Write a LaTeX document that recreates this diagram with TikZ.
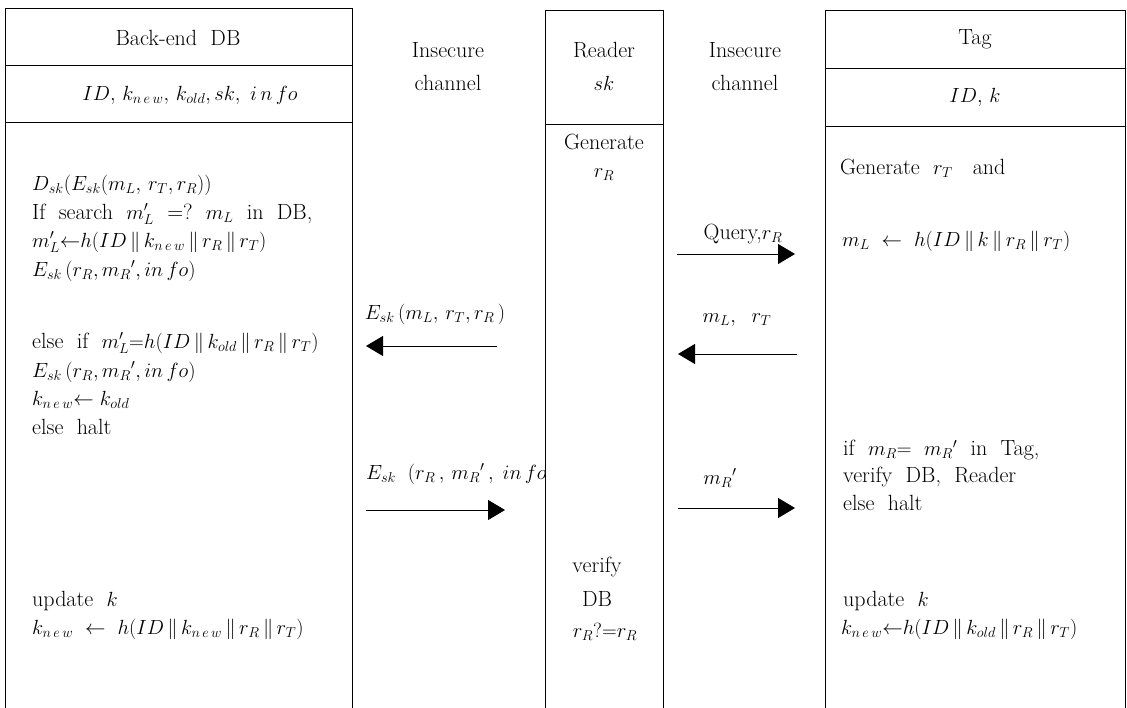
\RequirePackage{fix-cm}
\documentclass[tikz,border=0pt]{standalone}
\usetikzlibrary{arrows.meta}
\newcommand\mth[1]{{\fontsize{20.5}{24}\selectfont$#1$}}
\begin{document}
\begin{tikzpicture}[x=1pt,y=-1pt,
  txt/.style={font=\rmfamily\fontsize{22}{28}\selectfont, inner sep=0pt, anchor=west},
  ctr/.style={font=\rmfamily\fontsize{22}{28}\selectfont, inner sep=0pt},
  msg/.style={line width=0.8pt, -{Triangle[length=17pt,width=20pt]}},
  frame/.style={line width=0.8pt}]
\useasboundingbox (0,0) rectangle (1127,708);
% Back-end DB column
\draw[frame] (5,708) -- (5,8) -- (352,8) -- (352,708);
\draw[frame] (5,65) -- (352,65);
\draw[frame] (5,122) -- (352,122);
% Reader column
\draw[frame] (545,708) -- (545,10) -- (663,10) -- (663,708);
\draw[frame] (545,124) -- (663,124);
% Tag column
\draw[frame] (825,708) -- (825,10) -- (1125,10) -- (1125,708);
\draw[frame] (825,68) -- (1125,68);
\draw[frame] (825,126) -- (1125,126);

% headers
\node[ctr] (dbh) at (178,38) {Back-end\ \ DB};
\node[ctr] (dbv) at (190,95) {\mth{ID,\,k_{n\,e\,w},\,k_{old},sk,\ i\,n\,fo}};
\node[ctr] (ic1a) at (448,50) {Insecure};
\node[ctr] (ic1b) at (448,83) {channel};
\node[ctr] (rdh) at (604,50) {Reader};
\node[ctr] (rdv) at (604,83) {\mth{sk}};
\node[ctr] (ic2a) at (745,50) {Insecure};
\node[ctr] (ic2b) at (745,83) {channel};
\node[ctr] (tgh) at (975,39) {Tag};
\node[ctr] (tgv) at (975,97) {\mth{ID,\,k}};

% DB body
\node[txt] (d1) at (32,185) {\mth{D_{sk}(E_{sk}(m_L,\,r_T,r_R))}};
\node[txt] (d2) at (32,214) {If\ \ search\ \ \mth{m'_L}\ \ =?\ \ \mth{m_L}\ \ in\ \ DB,};
\node[txt] (d3) at (32,242) {\mth{m'_L{\leftarrow}h(ID\,\|\,k_{n\,e\,w}\,\|\,r_R\,\|\,r_T)}};
\node[txt] (d4) at (32,271) {\mth{E_{sk}\,(r_R,m_R{}',in\,fo)}};
\node[txt] (d5) at (32,343) {else\ \ if\ \ \mth{m'_L{=}h(ID\,\|\,k_{old}\,\|\,r_R\,\|\,r_T)}};
\node[txt] (d6) at (32,372) {\mth{E_{sk}\,(r_R,m_R{}',in\,fo)}};
\node[txt] (d7) at (32,400) {\mth{k_{n\,e\,w}{\leftarrow}\ k_{old}}};
\node[txt] (d8) at (32,427) {else\ \ halt};
\node[txt] (d9) at (32,601) {update\ \ \mth{k}};
\node[txt] (d10) at (32,629) {\mth{k_{n\,e\,w}\ \leftarrow\ h(ID\,\|\,k_{n\,e\,w}\,\|\,r_R\,\|\,r_T)}};

% Reader body
\node[ctr] (r1) at (604,142) {Generate};
\node[ctr] (r2) at (604,175) {\mth{r_R}};
\node[ctr] (r3) at (597,567) {verify};
\node[ctr] (r4) at (597,599) {DB};
\node[ctr] (r5) at (605,632) {\mth{r_R?{=}r_R}};

% Tag body
\node[txt] (t1) at (840,168) {Generate\ \ \mth{r_T}\ \ \ and};
\node[txt] (t2) at (842,241) {\mth{m_L\ \leftarrow\ h(ID\,\|\,k\,\|\,r_R\,\|\,r_T)}};
\node[txt] (t3) at (843,450) {if\ \ \mth{m_R{=}\ \ m_R{}'}\ \ in\ \ Tag,};
\node[txt] (t4) at (843,477) {verify\ \ DB,\ \ Reader};
\node[txt] (t5) at (843,503) {else\ \ halt};
\node[txt] (t6) at (843,601) {update\ \ \mth{k}};
\node[txt] (t7) at (841,629) {\mth{k_{n\,e\,w}{\leftarrow}h(ID\,\|\,k_{old}\,\|\,r_R\,\|\,r_T)}};

% messages
\coordinate (q0) at (677,254); \coordinate (q1) at (795,254);
\draw[msg] (q0) -- (q1);
\node[ctr] (ql) at (743,234) {Query,\mth{r_R}};

\coordinate (m0) at (797,354); \coordinate (m1) at (678,354);
\draw[msg] (m0) -- (m1);
\node[ctr] (ml) at (737,320) {\mth{m_L,\ \ r_T}};

\coordinate (e0) at (497,346); \coordinate (e1) at (366,346);
\draw[msg] (e0) -- (e1);
\node[ctr] (el) at (435,314) {\mth{E_{sk}\,(m_L,\,r_T,r_R\,)}};

\coordinate (f0) at (366,510); \coordinate (f1) at (505,510);
\draw[msg] (f0) -- (f1);
\begin{scope}
\clip (355,440) rectangle (545,500);
\node[txt] (fl) at (366,474) {\mth{E_{sk}\;\ (r_R\,,\,m_R{}'\,,\;in\,fo)}};
\end{scope}

\coordinate (g0) at (678,508); \coordinate (g1) at (795,508);
\draw[msg] (g0) -- (g1);
\node[ctr] (gl) at (720,478) {\mth{m_R{}'}};
\end{tikzpicture}
\end{document}
